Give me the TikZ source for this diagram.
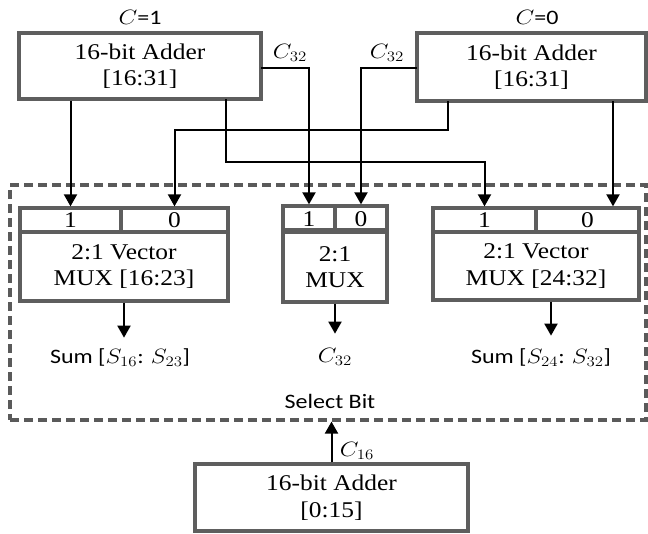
\documentclass[tikz,border=0pt]{standalone}
\usepackage{graphicx}
\usepackage{fontspec}
\setmainfont{Liberation Serif}
\setsansfont{Carlito}
\usetikzlibrary{arrows.meta}
\definecolor{boxgray}{HTML}{5E5E5E}
\definecolor{dashgray}{HTML}{5A5A5A}
\newcommand\sx[1]{\scalebox{1.13}[1]{#1}}
\newcommand\ssx[1]{\scalebox{1.17}[1]{#1}}
\newcommand\serifsz{\fontsize{22.5}{26.5}\selectfont}
\newcommand\sanssz{\fontsize{20.5}{24}\selectfont\sffamily}
\begin{document}
\begin{tikzpicture}[x=1pt,y=-1pt,
  box/.style={draw=boxgray, line width=3.3pt, inner sep=0pt, align=center, font=\serifsz},
  wire/.style={line width=2pt, -{Triangle[length=12pt,width=13pt]}},
  lab/.style={inner sep=0pt, font=\sanssz}]
\useasboundingbox (0,0) rectangle (648,533);

% dashed enclosure
\node[draw=dashgray, line width=3.2pt, dash pattern=on 9pt off 5pt, inner sep=0pt,
      minimum width=636pt, minimum height=235pt] (sel) at (328,302.5) {};

% adders
\node[box, minimum width=242pt, minimum height=66pt] (la) at (140,66)
  {\sx{16-bit Adder}\\\sx{[16:31]}};
\node[box, minimum width=229pt, minimum height=68pt] (ra) at (531.5,67)
  {\sx{16-bit Adder}\\\sx{[16:31]}};
\node[box, minimum width=273pt, minimum height=67pt] (ba) at (331.5,497.5)
  {\sx{16-bit Adder}\\\sx{[0:15]}};

% left mux
\node[box, minimum width=101pt, minimum height=24pt] (lm1) at (70.5,220) {\sx{1}};
\node[box, minimum width=107pt, minimum height=24pt] (lm0) at (174.5,220) {\sx{0}};
\node[box, minimum width=208pt, minimum height=69pt] (lmb) at (124,266.5)
  {\sx{2:1 Vector}\\\sx{MUX [16:23]}};
% middle mux
\node[box, minimum width=52pt, minimum height=26pt] (mm1) at (309,219) {\sx{1}};
\node[box, minimum width=52pt, minimum height=26pt] (mm0) at (361,219) {\sx{0}};
\node[box, minimum width=104pt, minimum height=70pt] (mmb) at (335,267)
  {\sx{2:1}\\\sx{MUX}};
\draw[boxgray, line width=5.5pt] (mmb.north west) -- (mmb.north east);
% right mux
\node[box, minimum width=103pt, minimum height=24pt] (rm1) at (484.5,220) {\sx{1}};
\node[box, minimum width=103pt, minimum height=24pt] (rm0) at (587.5,220) {\sx{0}};
\node[box, minimum width=206pt, minimum height=68pt] (rmb) at (536,266)
  {\sx{2:1 Vector}\\\sx{MUX [24:32]}};

% labels
\node[lab] (c1) at (140,17) {\ssx{$C$=1}};
\node[lab] (c0) at (537,17) {\ssx{$C$=0}};
\node[lab] (c32a) at (290,53) {\ssx{$C_{32}$}};
\node[lab] (c32b) at (387,53) {\ssx{$C_{32}$}};
\node[lab] (sumL) at (120,358) {\ssx{Sum [$S_{16}$: $S_{23}$]}};
\node[lab] (c32o) at (335,357) {\ssx{$C_{32}$}};
\node[lab] (sumR) at (541,358) {\ssx{Sum [$S_{24}$: $S_{32}$]}};
\node[lab] (selb) at (330,401) {\ssx{Select Bit}};
\node[lab] (c16) at (357,451) {\ssx{$C_{16}$}};

% pins
\coordinate (la-b) at (226,99);
\coordinate (la-c) at (261,68);
\coordinate (ra-b) at (448,101);
\coordinate (ra-c) at (417,68);
\coordinate (ra-d) at (613,101);

% connectors
\draw[wire] (la.south -| lm1.north) -- (lm1.north);
\draw[wire] (ra-b) -- ++(0,29) -| (lm0.north);
\draw[wire] (la-b) -- ++(0,63) -| (rm1.north);
\draw[wire] (la-c) -| (mm1.north);
\draw[wire] (ra-c) -| (mm0.north);
\draw[wire] (ra-d) -- (ra-d |- rm0.north);
\draw[wire] (lmb.south) -- ++(0,35);
\draw[wire] (mmb.south) -- ++(0,30);
\draw[wire] ([xshift=15pt]rmb.south) -- ++(0,34);
\draw[wire] (ba.north) -- (ba.north |- sel.south);
\end{tikzpicture}
\end{document}
